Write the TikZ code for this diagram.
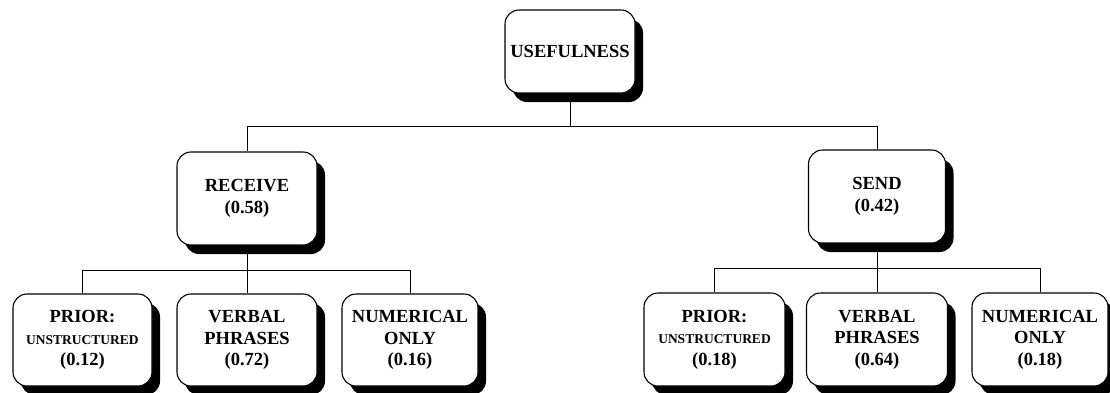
\documentclass[tikz,border=0pt]{standalone}
\usepackage{fontspec}
\setmainfont{Liberation Serif}
\usetikzlibrary{shadows}
\newcommand{\smallword}[1]{{\fontsize{13.5}{15}\selectfont #1}}
\begin{document}
\begin{tikzpicture}[x=1pt,y=-1pt,
    box/.style={draw, line width=1.1pt, rounded corners=14pt, fill=white,
      drop shadow={shadow xshift=8pt, shadow yshift=-9pt, fill=black, opacity=1},
      minimum width=140pt, minimum height=92pt, align=center,
      font=\bfseries\fontsize{18.5}{21.5}\selectfont, inner sep=2pt},
    link/.style={line width=0.9pt}]
    \useasboundingbox (0,0) rectangle (1110,392);

    % top
    \node[box, minimum width=130pt, minimum height=83pt] (use) at (570,51.5) {USEFULNESS};

    % second level
    \node[box, minimum height=93pt] (rec) at (247,198.5) {RECEIVE\\(0.58)};
    \node[box, minimum width=137pt, minimum height=93pt] (send) at (877,196.5) {SEND\\(0.42)};

    % left leaves
    \node[box, minimum width=139pt] (prior1) at (82.5,340) {PRIOR:\\\smallword{UNSTRUCTURED}\\(0.12)};
    \node[box] (verbal1) at (247,340) {VERBAL\\PHRASES\\(0.72)};
    \node[box, minimum width=136pt] (num1) at (410,340) {NUMERICAL\\ONLY\\(0.16)};

    % right leaves
    \node[box, minimum width=141pt, minimum height=93pt] (prior2) at (714.5,339.5) {PRIOR:\\\smallword{UNSTRUCTURED}\\(0.18)};
    \node[box, minimum width=141pt, minimum height=93pt] (verbal2) at (877,339.5) {VERBAL\\PHRASES\\(0.64)};
    \node[box, minimum width=136pt, minimum height=93pt] (num2) at (1040,339.5) {NUMERICAL\\ONLY\\(0.18)};

    % connectors
    \draw[link] (use.south) -- ++(0,33) coordinate (j0) -| (rec.north);
    \draw[link] (j0) -| (send.north);

    \draw[link] (rec.south) -- ++(0,25) coordinate (j1) -| (prior1.north);
    \draw[link] (j1) -- (verbal1.north);
    \draw[link] (j1) -| (num1.north);

    \draw[link] (send.south) -- ++(0,25) coordinate (j2) -| (prior2.north);
    \draw[link] (j2) -- (verbal2.north);
    \draw[link] (j2) -| (num2.north);
\end{tikzpicture}
\end{document}
